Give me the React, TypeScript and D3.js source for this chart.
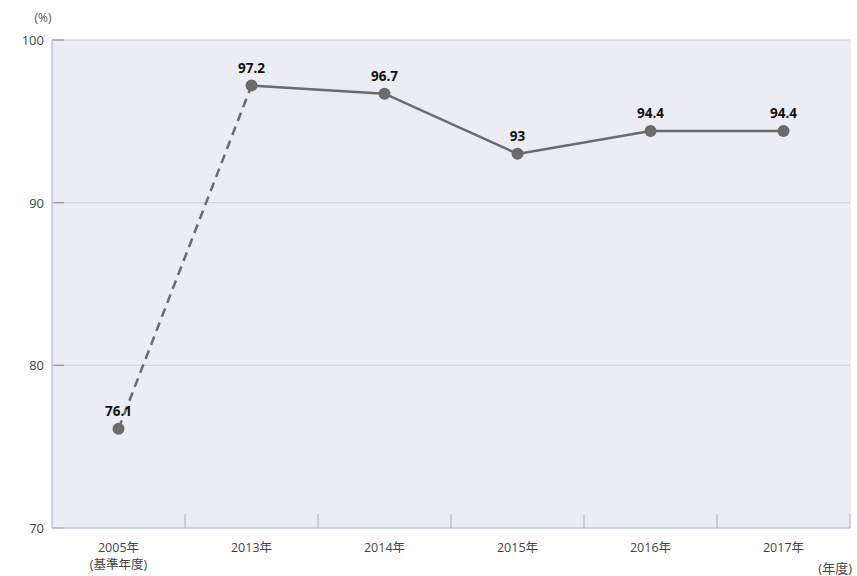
import React from "react";
import * as d3 from "d3";

const categories = ["2005年\n(基準年度)", "2013年", "2014年", "2015年", "2016年", "2017年"];
const values = [76.1, 97.2, 96.7, 93, 94.4, 94.4];
const valueLabels = ["76.1", "97.2", "96.7", "93", "94.4", "94.4"];
const yTicks = [70, 80, 90, 100];

const W = 857, H = 576;
const left = 52, right = 850, top = 40, bottom = 528;

export default function App() {
  const x = d3.scaleBand<number>().domain(d3.range(categories.length)).range([left, right]).padding(0);
  const y = d3.scaleLinear().domain([70, 100]).range([bottom, top]);
  const cx = (i: number) => (x(i) as number) + x.bandwidth() / 2;
  const line = d3.line<number>().x((d, i) => cx(i + 1)).y((d) => y(d));
  const solid = values.slice(1);
  const font = "'Open Sans', 'Noto Sans CJK JP', sans-serif";
  return (
    <svg width={W} height={H} style={{ position: "absolute", left: 0, top: 0, background: "#fff" }}>
      <rect x={left} y={top} width={right - left} height={bottom - top} fill="#ececf3" />
      <line x1={left} x2={right} y1={top} y2={top} stroke="#d6d6dc" strokeWidth={1.5} />
      <line x1={right} x2={right} y1={top} y2={bottom} stroke="#e2e2e8" strokeWidth={1} />
      {yTicks.filter((t) => t !== 70 && t !== 100).map((t) => (
        <line key={t} x1={left} x2={right} y1={y(t)} y2={y(t)} stroke="#cbd0de" strokeWidth={1} />
      ))}
      {yTicks.map((t) => (
        <line key={"s" + t} x1={left} x2={left + 12} y1={y(t)} y2={y(t)} stroke="#9aa6c0" strokeWidth={1.5} />
      ))}
      <line x1={left} x2={left} y1={top} y2={bottom} stroke="#bcc6dc" strokeWidth={1.5} />
      <line x1={left} x2={right} y1={bottom} y2={bottom} stroke="#bcc6dc" strokeWidth={1.5} />
      {categories.map((c, i) => (
        <line key={"t" + i} x1={(x(i) as number) + x.bandwidth()} x2={(x(i) as number) + x.bandwidth()} y1={bottom - 14} y2={bottom} stroke="#a8b0c4" strokeWidth={1} />
      ))}
      {yTicks.map((t) => (
        <text key={"yl" + t} x={44} y={y(t) + 5} textAnchor="end" fontSize={13} fill="#444" fontFamily={font}>{t}</text>
      ))}
      <text x={43} y={22} textAnchor="middle" fontSize={12} fill="#555" fontFamily={font}>(%)</text>
      {categories.map((c, i) => (
        <text key={"c" + i} x={cx(i)} y={552} textAnchor="middle" fontSize={12.5} fill="#444" fontFamily={font}>
          {c.split("\n").map((s, j) => (
            <tspan key={j} x={cx(i)} dy={j === 0 ? 0 : 17}>{s}</tspan>
          ))}
        </text>
      ))}
      <text x={852} y={573} textAnchor="end" fontSize={13} fill="#444" fontFamily={font}>(年度)</text>
      <line x1={cx(0)} y1={y(values[0])} x2={cx(1)} y2={y(values[1])} stroke="#6b6b6b" strokeWidth={2.5} strokeDasharray="9,6" />
      <path d={line(solid) || ""} fill="none" stroke="#6b6b6b" strokeWidth={2.5} />
      {values.map((v, i) => (
        <circle key={"p" + i} cx={cx(i)} cy={y(v)} r={6} fill="#6b6b6b" />
      ))}
      {values.map((v, i) => (
        <text key={"v" + i} x={cx(i)} y={y(v) - 13} textAnchor="middle" fontSize={13.5} fontWeight="bold" fill="#111" fontFamily={font}>{valueLabels[i]}</text>
      ))}
    </svg>
  );
}
